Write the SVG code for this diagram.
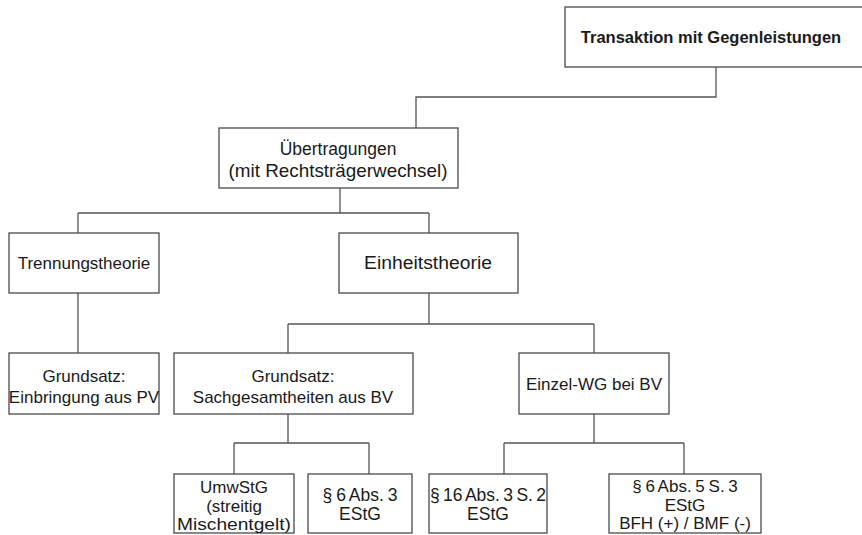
<svg xmlns="http://www.w3.org/2000/svg" width="862" height="535" viewBox="0 0 862 535">
<style>
.box{fill:#fff;stroke:#4a4a4a;stroke-width:1.3}
.con{fill:none;stroke:#555;stroke-width:1.3}
text{font-family:"Liberation Sans",Arial,sans-serif;font-size:17px;fill:#1a1a1a;text-anchor:middle}
.b{font-weight:bold;font-size:16.5px}
.s{font-size:17.5px}
.l{font-size:18.5px}
.t{font-size:17px}
</style>
<rect width="862" height="535" fill="#fff"/>
<g id="connectors">
<path class="con" d="M716,67 V97 H416 V128"/>
<path class="con" d="M340,188 V213 M78,213 H429 M78,213 V233 M429,213 V233"/>
<path class="con" d="M78,293 V353"/>
<path class="con" d="M429,293 V324 M288,324 H594 M288,324 V353 M594,324 V353"/>
<path class="con" d="M288,414 V443 M234,443 H369 M234,443 V474 M369,443 V474"/>
<path class="con" d="M594,414 V443 M504,443 H684 M504,443 V474 M684,443 V474"/>
</g>
<g id="n-transaktion"><rect class="box" x="565" y="7" width="305" height="60"/><text class="b" x="711" y="43">Transaktion mit Gegenleistungen</text></g>
<g id="n-uebertragungen"><rect class="box" x="219" y="128" width="239" height="60"/><text x="338" y="155" class="s">Übertragungen</text><text x="338" y="177" class="l" textLength="219" lengthAdjust="spacingAndGlyphs">(mit Rechtsträgerwechsel)</text></g>
<g id="n-trennung"><rect class="box" x="9" y="233" width="150" height="60"/><text x="84" y="269">Trennungstheorie</text></g>
<g id="n-einheit"><rect class="box" x="339" y="233" width="179" height="60"/><text x="428" y="269" class="s" textLength="128" lengthAdjust="spacingAndGlyphs">Einheitstheorie</text></g>
<g id="n-grundsatz-pv"><rect class="box" x="9" y="353" width="150" height="61"/><text x="84" y="382">Grundsatz:</text><text x="84" y="403">Einbringung aus PV</text></g>
<g id="n-grundsatz-bv"><rect class="box" x="174" y="353" width="239" height="61"/><text x="293" y="382">Grundsatz:</text><text x="293" y="403">Sachgesamtheiten aus BV</text></g>
<g id="n-einzel"><rect class="box" x="519" y="353" width="150" height="61"/><text x="594" y="390">Einzel-WG bei BV</text></g>
<g id="n-umwstg"><rect class="box" x="174" y="474" width="120" height="59"/><text class="t" x="234" y="493">UmwStG</text><text class="t" x="234" y="511.5">(streitig</text><text class="t" x="234" y="530" textLength="114" lengthAdjust="spacingAndGlyphs">Mischentgelt)</text></g>
<g id="n-6abs3"><rect class="box" x="308" y="474" width="104" height="59"/><text class="s" x="360" y="501" word-spacing="-1">§ 6 Abs. 3</text><text class="s" x="360" y="520">EStG</text></g>
<g id="n-16abs3"><rect class="box" x="429" y="474" width="118" height="59"/><text class="s" x="488" y="501" word-spacing="-1.5">§ 16 Abs. 3 S. 2</text><text class="s" x="488" y="520">EStG</text></g>
<g id="n-6abs5"><rect class="box" x="609" y="474" width="152" height="59"/><text class="t" x="685" y="492" word-spacing="-1">§ 6 Abs. 5 S. 3</text><text class="t" x="685" y="510.5">EStG</text><text class="t" x="685" y="529">BFH (+) / BMF (-)</text></g>
</svg>
